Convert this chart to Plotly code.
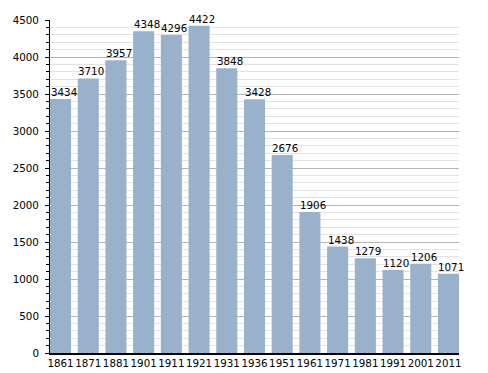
import plotly.graph_objects as go

years = ["1861", "1871", "1881", "1901", "1911", "1921", "1931", "1936",
         "1951", "1961", "1971", "1981", "1991", "2001", "2011"]
population = [3434, 3710, 3957, 4348, 4296, 4422, 3848, 3428,
              2676, 1906, 1438, 1279, 1120, 1206, 1071]

fig = go.Figure(go.Bar(
    x=years, y=population,
    marker=dict(color="#99b1cb", line=dict(width=0)),
    cliponaxis=False,
))

# value labels, left-aligned on each bar's left edge (x = category index)
for i, v in enumerate(population):
    fig.add_annotation(
        x=i, y=v, xref="x", yref="y", text=str(v), showarrow=False,
        xanchor="left", yanchor="bottom", xshift=-11, yshift=0,
        borderpad=0,
        font=dict(family="DejaVu Sans", size=10.3, color="black"),
    )

# page body has an 8px margin, so the figure is sized to fit the window
fig.update_layout(
    width=480, height=365,
    margin=dict(l=42, r=29, t=12, b=20, autoexpand=False),
    paper_bgcolor="white", plot_bgcolor="white",
    bargap=0.24,
    showlegend=False,
    font=dict(family="DejaVu Sans", size=10.3, color="black"),
    xaxis=dict(
        type="category",
        range=[-0.38, 14.38],
        showline=True, linecolor="black", linewidth=1.5,
        ticks="", showgrid=False,
        tickangle=0,
        automargin=False,
        tickfont=dict(size=10.3),
    ),
    yaxis=dict(
        range=[0, 4500],
        dtick=500, tick0=0,
        automargin=False,
        showline=True, linecolor="black", linewidth=1,
        ticks="outside", ticklen=4, tickcolor="black",
        showgrid=True, gridcolor="#b4b4b4", gridwidth=1,
        zeroline=False,
        tickfont=dict(size=10.3),
        ticklabelstandoff=4,
        minor=dict(dtick=100, showgrid=True, gridcolor="#e3e3e3", gridwidth=1,
                   ticks="outside", ticklen=3, tickcolor="black"),
    ),
)

fig.write_html("out.html")
